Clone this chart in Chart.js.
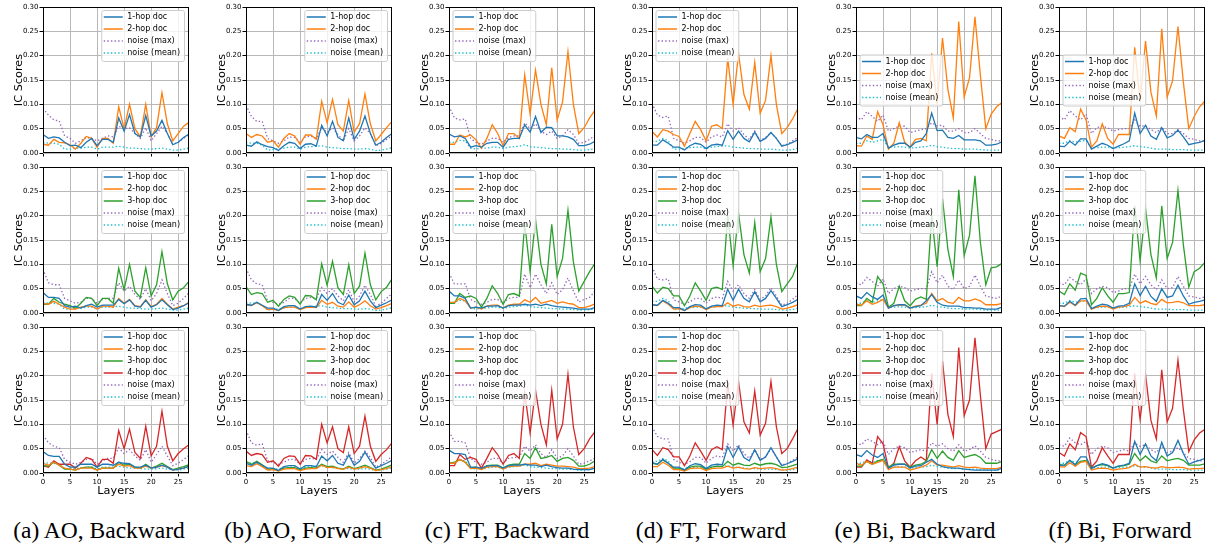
<!DOCTYPE html>
<html lang="en">
<head>
<meta charset="UTF-8">
<title>IC Scores per layer</title>
<script src="https://cdn.jsdelivr.net/npm/chart.js"></script>
<style>
  body { margin: 0; width: 1210px; height: 551px; background: #fff; position: relative; overflow: hidden; }
  canvas.panel { position: absolute; }
  .caption { position: absolute; top: 518px; width: 220px; text-align: center; white-space: nowrap;
             font-family: "Liberation Serif", "Times New Roman", serif; font-size: 23.5px; line-height: 24px; color: #000; }
</style>
</head>
<body>
<script>
// x values (layers)
const layers = [0,1,2,3,4,5,6,7,8,9,10,11,12,13,14,15,16,17,18,19,20,21,22,23,24,25,26,27];

const hopLabels = ['1-hop doc', '2-hop doc', '3-hop doc', '4-hop doc'];
const hopColors = ['#1f77b4', '#ff7f0e', '#2ca02c', '#d62728'];
const captions = ['(a) AO, Backward', '(b) AO, Forward', '(c) FT, Backward', '(d) FT, Forward', '(e) Bi, Backward', '(f) Bi, Forward'];

// (a) AO, Backward
const a1_hop1 = [0.038,0.030,0.033,0.031,0.022,0.015,0.016,0.011,0.022,0.030,0.015,0.028,0.028,0.022,0.072,0.045,0.079,0.040,0.033,0.077,0.035,0.045,0.067,0.040,0.017,0.022,0.032,0.039];
const a1_hop2 = [0.018,0.016,0.028,0.022,0.021,0.017,0.008,0.020,0.034,0.030,0.012,0.030,0.030,0.020,0.095,0.050,0.100,0.050,0.033,0.100,0.033,0.052,0.124,0.060,0.025,0.040,0.055,0.063];
const a1_nmax = [0.092,0.078,0.068,0.066,0.035,0.030,0.020,0.025,0.032,0.030,0.025,0.030,0.035,0.033,0.055,0.050,0.052,0.040,0.030,0.052,0.025,0.040,0.055,0.040,0.018,0.022,0.030,0.038];
const a_nmean = [0.022,0.020,0.020,0.018,0.008,0.008,0.010,0.010,0.012,0.012,0.008,0.012,0.012,0.012,0.014,0.012,0.010,0.010,0.009,0.008,0.008,0.009,0.010,0.008,0.006,0.006,0.008,0.010];

const a2_hop1 = [0.042,0.032,0.032,0.030,0.015,0.012,0.014,0.010,0.015,0.018,0.012,0.016,0.016,0.016,0.028,0.019,0.027,0.014,0.012,0.026,0.012,0.017,0.027,0.017,0.007,0.010,0.015,0.021];
const a2_hop2 = [0.020,0.018,0.024,0.018,0.012,0.008,0.008,0.012,0.014,0.014,0.008,0.014,0.014,0.012,0.030,0.020,0.028,0.015,0.013,0.027,0.013,0.018,0.030,0.018,0.008,0.012,0.015,0.022];
const a2_hop3 = [0.018,0.018,0.030,0.022,0.018,0.015,0.010,0.020,0.032,0.030,0.015,0.030,0.030,0.020,0.092,0.048,0.100,0.045,0.032,0.093,0.035,0.058,0.126,0.060,0.027,0.045,0.052,0.065];
const a2_nmax = [0.090,0.062,0.058,0.058,0.030,0.025,0.020,0.022,0.030,0.030,0.020,0.028,0.030,0.030,0.062,0.045,0.055,0.038,0.028,0.050,0.025,0.040,0.068,0.040,0.015,0.020,0.030,0.042];

const a3_hop1 = [0.044,0.036,0.034,0.034,0.018,0.012,0.012,0.018,0.018,0.018,0.012,0.018,0.018,0.016,0.022,0.020,0.019,0.012,0.012,0.016,0.010,0.012,0.016,0.012,0.006,0.008,0.010,0.014];
const a3_hop2 = [0.020,0.016,0.022,0.016,0.010,0.008,0.006,0.010,0.010,0.010,0.006,0.010,0.010,0.010,0.018,0.014,0.015,0.010,0.010,0.014,0.010,0.012,0.015,0.012,0.006,0.008,0.010,0.014];
const a3_hop3 = [0.015,0.014,0.022,0.016,0.008,0.008,0.006,0.010,0.012,0.012,0.006,0.010,0.010,0.010,0.022,0.016,0.018,0.012,0.010,0.018,0.010,0.014,0.020,0.013,0.007,0.010,0.013,0.017];
const a3_hop4 = [0.015,0.012,0.025,0.018,0.018,0.018,0.010,0.020,0.032,0.028,0.012,0.028,0.028,0.020,0.087,0.050,0.090,0.042,0.030,0.096,0.035,0.055,0.127,0.055,0.025,0.040,0.050,0.058];
const a3_nmax = [0.078,0.062,0.055,0.052,0.028,0.022,0.018,0.022,0.028,0.030,0.018,0.025,0.030,0.030,0.052,0.040,0.048,0.035,0.026,0.048,0.022,0.038,0.055,0.035,0.015,0.020,0.028,0.036];

// (b) AO, Forward
const b1_hop1 = [0.016,0.014,0.023,0.017,0.013,0.011,0.005,0.015,0.022,0.020,0.009,0.018,0.019,0.014,0.057,0.035,0.065,0.032,0.025,0.072,0.028,0.045,0.076,0.040,0.016,0.022,0.032,0.040];
const b1_hop2 = [0.040,0.032,0.038,0.035,0.022,0.025,0.012,0.030,0.040,0.035,0.018,0.037,0.037,0.028,0.106,0.062,0.110,0.058,0.045,0.108,0.043,0.060,0.121,0.060,0.025,0.038,0.052,0.065];
const b1_nmax = [0.098,0.075,0.065,0.065,0.030,0.025,0.020,0.025,0.033,0.032,0.022,0.033,0.035,0.030,0.052,0.042,0.052,0.038,0.025,0.050,0.025,0.035,0.052,0.040,0.015,0.020,0.028,0.036];
const b_nmean = [0.022,0.020,0.020,0.016,0.006,0.007,0.009,0.010,0.012,0.012,0.008,0.012,0.013,0.014,0.015,0.012,0.011,0.010,0.009,0.009,0.008,0.008,0.009,0.008,0.005,0.006,0.008,0.011];

const b2_hop1 = [0.018,0.016,0.022,0.016,0.010,0.010,0.005,0.013,0.015,0.015,0.008,0.013,0.014,0.012,0.038,0.026,0.040,0.022,0.017,0.037,0.017,0.025,0.045,0.025,0.011,0.016,0.021,0.027];
const b2_hop2 = [0.016,0.015,0.021,0.015,0.007,0.008,0.005,0.011,0.012,0.012,0.007,0.011,0.012,0.011,0.026,0.018,0.022,0.014,0.012,0.023,0.012,0.017,0.025,0.015,0.008,0.011,0.015,0.020];
const b2_hop3 = [0.054,0.038,0.042,0.040,0.022,0.026,0.014,0.028,0.035,0.032,0.018,0.036,0.035,0.027,0.101,0.057,0.106,0.052,0.038,0.099,0.040,0.055,0.123,0.058,0.027,0.044,0.053,0.070];
const b2_nmax = [0.092,0.068,0.060,0.058,0.025,0.022,0.018,0.022,0.030,0.030,0.020,0.030,0.032,0.030,0.052,0.040,0.050,0.035,0.025,0.048,0.023,0.035,0.057,0.038,0.014,0.020,0.030,0.040];

const b3_hop1 = [0.020,0.016,0.022,0.016,0.010,0.010,0.005,0.013,0.015,0.015,0.008,0.015,0.015,0.013,0.035,0.025,0.036,0.020,0.016,0.037,0.016,0.024,0.043,0.025,0.010,0.015,0.020,0.026];
const b3_hop2 = [0.015,0.013,0.019,0.013,0.006,0.007,0.004,0.008,0.009,0.009,0.005,0.008,0.009,0.009,0.016,0.011,0.012,0.009,0.008,0.012,0.008,0.010,0.013,0.010,0.005,0.007,0.009,0.013];
const b3_hop3 = [0.024,0.018,0.024,0.017,0.008,0.009,0.005,0.010,0.011,0.011,0.006,0.010,0.011,0.010,0.018,0.013,0.014,0.010,0.008,0.014,0.009,0.012,0.016,0.011,0.006,0.008,0.012,0.017];
const b3_hop4 = [0.045,0.036,0.040,0.038,0.022,0.025,0.014,0.030,0.035,0.034,0.018,0.036,0.035,0.028,0.100,0.062,0.095,0.050,0.042,0.095,0.040,0.055,0.117,0.055,0.024,0.038,0.048,0.062];
const b3_nmax = [0.088,0.062,0.057,0.060,0.025,0.022,0.018,0.022,0.028,0.028,0.018,0.028,0.030,0.028,0.048,0.038,0.045,0.032,0.022,0.042,0.020,0.030,0.045,0.032,0.012,0.018,0.025,0.034];

// (c) FT, Backward
const c1_hop1 = [0.039,0.033,0.035,0.030,0.012,0.015,0.012,0.020,0.022,0.022,0.012,0.028,0.030,0.030,0.058,0.043,0.075,0.042,0.053,0.052,0.035,0.035,0.033,0.028,0.015,0.015,0.018,0.024];
const c1_hop2 = [0.018,0.018,0.037,0.033,0.037,0.027,0.010,0.030,0.058,0.040,0.015,0.040,0.040,0.030,0.160,0.080,0.170,0.100,0.058,0.175,0.068,0.105,0.208,0.100,0.040,0.052,0.072,0.088];
const c1_nmax = [0.096,0.072,0.068,0.070,0.030,0.022,0.018,0.025,0.030,0.030,0.022,0.032,0.035,0.035,0.062,0.050,0.060,0.045,0.038,0.045,0.030,0.035,0.048,0.038,0.020,0.022,0.028,0.036];
const c_nmean = [0.022,0.022,0.026,0.025,0.010,0.008,0.010,0.010,0.012,0.012,0.009,0.012,0.013,0.014,0.017,0.013,0.012,0.011,0.010,0.009,0.009,0.008,0.008,0.007,0.006,0.006,0.007,0.009];

const c2_hop1 = [0.045,0.035,0.035,0.030,0.010,0.012,0.010,0.014,0.014,0.015,0.010,0.015,0.016,0.016,0.018,0.016,0.018,0.015,0.018,0.015,0.013,0.012,0.011,0.010,0.008,0.008,0.008,0.011];
const c2_hop2 = [0.022,0.022,0.030,0.025,0.010,0.012,0.008,0.014,0.016,0.016,0.010,0.016,0.018,0.018,0.027,0.022,0.032,0.020,0.023,0.026,0.020,0.023,0.020,0.018,0.011,0.011,0.014,0.019];
const c2_hop3 = [0.020,0.020,0.040,0.032,0.035,0.030,0.012,0.030,0.056,0.040,0.018,0.038,0.040,0.035,0.185,0.085,0.192,0.100,0.060,0.182,0.075,0.112,0.211,0.105,0.045,0.065,0.085,0.102];
const c2_nmax = [0.082,0.060,0.060,0.060,0.028,0.022,0.018,0.022,0.028,0.028,0.020,0.030,0.032,0.032,0.080,0.052,0.080,0.058,0.040,0.062,0.038,0.048,0.072,0.045,0.022,0.028,0.032,0.045];

const c3_hop1 = [0.047,0.040,0.040,0.038,0.012,0.012,0.010,0.014,0.015,0.015,0.010,0.015,0.016,0.016,0.018,0.016,0.016,0.013,0.016,0.013,0.011,0.010,0.010,0.008,0.007,0.007,0.007,0.010];
const c3_hop2 = [0.020,0.020,0.028,0.022,0.009,0.010,0.007,0.012,0.013,0.013,0.008,0.013,0.014,0.014,0.018,0.018,0.020,0.015,0.018,0.016,0.014,0.014,0.013,0.012,0.009,0.009,0.010,0.013];
const c3_hop3 = [0.020,0.022,0.028,0.022,0.010,0.012,0.008,0.015,0.016,0.016,0.010,0.016,0.018,0.018,0.040,0.030,0.052,0.030,0.032,0.036,0.024,0.030,0.032,0.026,0.014,0.014,0.018,0.025];
const c3_hop4 = [0.015,0.015,0.038,0.028,0.032,0.028,0.010,0.030,0.052,0.038,0.018,0.036,0.040,0.030,0.165,0.082,0.170,0.100,0.058,0.170,0.070,0.100,0.203,0.095,0.038,0.050,0.070,0.085];
const c3_nmax = [0.085,0.065,0.065,0.062,0.030,0.022,0.018,0.022,0.030,0.030,0.020,0.030,0.032,0.032,0.055,0.045,0.058,0.040,0.032,0.048,0.030,0.035,0.050,0.035,0.018,0.020,0.025,0.030];

// (d) FT, Forward
const d1_hop1 = [0.016,0.016,0.027,0.020,0.012,0.012,0.006,0.015,0.020,0.018,0.009,0.016,0.018,0.016,0.046,0.028,0.045,0.030,0.023,0.043,0.024,0.030,0.042,0.030,0.014,0.017,0.022,0.027];
const d1_hop2 = [0.044,0.033,0.048,0.045,0.038,0.034,0.014,0.040,0.065,0.048,0.025,0.055,0.058,0.050,0.195,0.100,0.205,0.120,0.090,0.186,0.082,0.108,0.200,0.100,0.040,0.052,0.070,0.092];
const d1_nmax = [0.102,0.078,0.073,0.076,0.030,0.025,0.020,0.025,0.032,0.032,0.022,0.033,0.037,0.033,0.060,0.045,0.052,0.038,0.028,0.045,0.025,0.032,0.042,0.030,0.015,0.018,0.025,0.032];
const d_nmean = [0.024,0.024,0.030,0.025,0.008,0.008,0.010,0.011,0.012,0.012,0.009,0.012,0.013,0.014,0.015,0.012,0.011,0.010,0.009,0.009,0.008,0.008,0.008,0.007,0.006,0.006,0.007,0.010];

const d2_hop1 = [0.017,0.016,0.026,0.020,0.011,0.011,0.005,0.013,0.017,0.016,0.008,0.014,0.016,0.015,0.049,0.026,0.049,0.030,0.023,0.044,0.023,0.030,0.046,0.030,0.013,0.017,0.022,0.028];
const d2_hop2 = [0.016,0.015,0.025,0.018,0.008,0.009,0.005,0.011,0.014,0.013,0.007,0.012,0.013,0.013,0.021,0.014,0.017,0.013,0.012,0.016,0.013,0.015,0.016,0.013,0.008,0.010,0.013,0.017];
const d2_hop3 = [0.055,0.041,0.053,0.050,0.035,0.035,0.015,0.035,0.062,0.045,0.026,0.050,0.053,0.048,0.200,0.097,0.205,0.120,0.082,0.186,0.085,0.112,0.197,0.100,0.044,0.060,0.075,0.105];
const d2_nmax = [0.095,0.070,0.068,0.070,0.027,0.023,0.018,0.023,0.030,0.030,0.020,0.030,0.033,0.030,0.065,0.045,0.058,0.040,0.030,0.048,0.028,0.035,0.052,0.035,0.016,0.020,0.028,0.038];

const d3_hop1 = [0.022,0.018,0.028,0.020,0.012,0.012,0.006,0.015,0.019,0.017,0.009,0.016,0.018,0.017,0.054,0.032,0.054,0.032,0.025,0.048,0.026,0.033,0.052,0.033,0.015,0.019,0.024,0.029];
const d3_hop2 = [0.013,0.013,0.022,0.016,0.007,0.007,0.004,0.009,0.010,0.010,0.005,0.009,0.010,0.010,0.014,0.010,0.012,0.009,0.008,0.011,0.009,0.010,0.011,0.009,0.006,0.007,0.009,0.012];
const d3_hop3 = [0.020,0.018,0.027,0.020,0.010,0.010,0.005,0.012,0.014,0.014,0.007,0.012,0.014,0.013,0.024,0.016,0.020,0.016,0.015,0.020,0.016,0.019,0.020,0.017,0.011,0.012,0.015,0.019];
const d3_hop4 = [0.048,0.036,0.052,0.048,0.033,0.033,0.015,0.035,0.062,0.045,0.026,0.048,0.054,0.048,0.185,0.098,0.188,0.105,0.082,0.168,0.078,0.102,0.188,0.095,0.040,0.050,0.070,0.092];
const d3_nmax = [0.095,0.075,0.070,0.070,0.028,0.022,0.018,0.023,0.032,0.032,0.020,0.030,0.035,0.032,0.060,0.045,0.058,0.040,0.030,0.048,0.028,0.033,0.050,0.033,0.016,0.020,0.026,0.033];

// (e) Bi, Backward
const e1_hop1 = [0.032,0.029,0.038,0.032,0.032,0.040,0.010,0.016,0.020,0.020,0.012,0.022,0.025,0.040,0.082,0.046,0.047,0.032,0.030,0.036,0.027,0.027,0.027,0.025,0.016,0.016,0.018,0.023];
const e1_hop2 = [0.015,0.014,0.035,0.028,0.085,0.058,0.008,0.020,0.062,0.022,0.012,0.028,0.030,0.025,0.205,0.100,0.236,0.130,0.072,0.270,0.115,0.155,0.280,0.160,0.050,0.080,0.095,0.104];
const e1_nmax = [0.075,0.068,0.085,0.075,0.065,0.078,0.045,0.050,0.055,0.055,0.042,0.045,0.048,0.050,0.062,0.056,0.057,0.045,0.045,0.050,0.042,0.042,0.050,0.040,0.030,0.028,0.025,0.025];
const e_nmean = [0.020,0.020,0.025,0.022,0.025,0.028,0.012,0.012,0.013,0.012,0.010,0.011,0.012,0.013,0.016,0.013,0.012,0.010,0.009,0.009,0.008,0.008,0.008,0.007,0.006,0.006,0.006,0.006];

const e2_hop1 = [0.035,0.030,0.042,0.033,0.028,0.037,0.010,0.015,0.017,0.017,0.010,0.013,0.015,0.025,0.038,0.022,0.016,0.014,0.014,0.014,0.011,0.011,0.010,0.010,0.008,0.008,0.008,0.012];
const e2_hop2 = [0.018,0.016,0.025,0.018,0.022,0.028,0.010,0.015,0.016,0.016,0.010,0.014,0.016,0.020,0.040,0.025,0.030,0.022,0.020,0.032,0.025,0.025,0.029,0.025,0.017,0.017,0.017,0.020];
const e2_hop3 = [0.015,0.015,0.030,0.022,0.075,0.060,0.012,0.020,0.055,0.025,0.015,0.028,0.033,0.028,0.200,0.095,0.235,0.130,0.075,0.253,0.118,0.160,0.282,0.145,0.058,0.093,0.095,0.102];
const e2_nmax = [0.062,0.058,0.073,0.065,0.055,0.070,0.040,0.050,0.055,0.052,0.045,0.048,0.050,0.050,0.085,0.062,0.078,0.055,0.048,0.068,0.050,0.055,0.078,0.055,0.035,0.032,0.030,0.035];

const e3_hop1 = [0.038,0.034,0.046,0.037,0.032,0.040,0.010,0.016,0.018,0.018,0.010,0.014,0.015,0.022,0.028,0.018,0.013,0.011,0.010,0.010,0.008,0.007,0.006,0.006,0.006,0.006,0.006,0.010];
const e3_hop2 = [0.020,0.016,0.024,0.018,0.022,0.026,0.007,0.012,0.012,0.012,0.006,0.009,0.012,0.016,0.025,0.016,0.016,0.014,0.012,0.015,0.012,0.011,0.012,0.010,0.009,0.009,0.009,0.012];
const e3_hop3 = [0.014,0.014,0.024,0.018,0.025,0.028,0.012,0.018,0.018,0.018,0.012,0.016,0.018,0.024,0.048,0.030,0.045,0.032,0.026,0.046,0.032,0.035,0.038,0.032,0.020,0.020,0.020,0.024];
const e3_hop4 = [0.012,0.012,0.027,0.020,0.075,0.060,0.010,0.020,0.054,0.025,0.012,0.025,0.033,0.025,0.205,0.100,0.230,0.120,0.075,0.258,0.118,0.150,0.278,0.160,0.050,0.080,0.085,0.090];
const e3_nmax = [0.062,0.058,0.070,0.065,0.058,0.065,0.038,0.050,0.055,0.052,0.042,0.045,0.048,0.045,0.062,0.055,0.060,0.050,0.045,0.058,0.045,0.048,0.056,0.045,0.032,0.028,0.025,0.025];

// (f) Bi, Forward
const f1_hop1 = [0.014,0.013,0.024,0.016,0.029,0.029,0.008,0.014,0.020,0.016,0.009,0.014,0.019,0.025,0.082,0.040,0.057,0.035,0.028,0.052,0.031,0.036,0.047,0.033,0.017,0.020,0.022,0.026];
const f1_hop2 = [0.035,0.030,0.052,0.044,0.090,0.068,0.012,0.025,0.060,0.030,0.018,0.038,0.038,0.038,0.217,0.105,0.230,0.125,0.076,0.255,0.115,0.148,0.260,0.145,0.050,0.075,0.095,0.107];
const f1_nmax = [0.075,0.068,0.087,0.076,0.068,0.080,0.040,0.052,0.055,0.052,0.045,0.048,0.050,0.050,0.068,0.055,0.056,0.048,0.042,0.053,0.040,0.040,0.048,0.040,0.030,0.028,0.025,0.025];
const f_nmean = [0.020,0.020,0.026,0.022,0.024,0.026,0.011,0.011,0.012,0.012,0.010,0.011,0.012,0.013,0.015,0.013,0.012,0.010,0.008,0.008,0.008,0.007,0.007,0.007,0.006,0.006,0.006,0.006];

const f2_hop1 = [0.015,0.014,0.024,0.016,0.029,0.030,0.009,0.014,0.018,0.016,0.010,0.014,0.015,0.020,0.060,0.036,0.055,0.034,0.024,0.050,0.032,0.035,0.057,0.035,0.018,0.022,0.024,0.027];
const f2_hop2 = [0.015,0.013,0.022,0.015,0.025,0.025,0.008,0.012,0.014,0.013,0.008,0.012,0.013,0.016,0.032,0.020,0.025,0.020,0.017,0.028,0.021,0.022,0.024,0.021,0.015,0.015,0.015,0.017];
const f2_hop3 = [0.045,0.038,0.060,0.047,0.082,0.077,0.017,0.030,0.052,0.035,0.022,0.040,0.040,0.042,0.220,0.107,0.215,0.120,0.072,0.220,0.112,0.145,0.252,0.140,0.053,0.085,0.092,0.104];
const f2_nmax = [0.062,0.058,0.073,0.065,0.058,0.070,0.040,0.050,0.055,0.052,0.042,0.045,0.050,0.050,0.080,0.060,0.075,0.058,0.048,0.068,0.050,0.052,0.075,0.055,0.035,0.033,0.030,0.033];

const f3_hop1 = [0.016,0.015,0.026,0.017,0.033,0.033,0.009,0.015,0.019,0.016,0.010,0.014,0.016,0.020,0.065,0.038,0.060,0.035,0.025,0.063,0.035,0.042,0.067,0.040,0.018,0.023,0.026,0.030];
const f3_hop2 = [0.013,0.012,0.021,0.014,0.022,0.024,0.006,0.009,0.010,0.009,0.006,0.008,0.009,0.011,0.018,0.012,0.013,0.011,0.010,0.013,0.011,0.011,0.012,0.011,0.008,0.009,0.009,0.010];
const f3_hop3 = [0.017,0.016,0.026,0.017,0.024,0.026,0.010,0.015,0.017,0.015,0.010,0.014,0.015,0.018,0.040,0.025,0.035,0.025,0.021,0.035,0.025,0.028,0.030,0.026,0.016,0.016,0.016,0.019];
const f3_hop4 = [0.042,0.035,0.060,0.048,0.083,0.075,0.012,0.025,0.052,0.035,0.020,0.038,0.038,0.038,0.205,0.110,0.203,0.108,0.070,0.212,0.105,0.133,0.232,0.130,0.044,0.068,0.082,0.090];
const f3_nmax = [0.058,0.055,0.072,0.062,0.058,0.065,0.038,0.050,0.055,0.052,0.042,0.045,0.048,0.045,0.062,0.055,0.058,0.048,0.042,0.055,0.042,0.045,0.052,0.042,0.030,0.028,0.025,0.025];

// which arrays go in which panel; legend: ur = upper right, ul = upper left, cl = center left
const panels = [
  { col: 0, row: 0, legend: 'ur', hops: [a1_hop1, a1_hop2], nmax: a1_nmax, nmean: a_nmean },
  { col: 0, row: 1, legend: 'ur', hops: [a2_hop1, a2_hop2, a2_hop3], nmax: a2_nmax, nmean: a_nmean },
  { col: 0, row: 2, legend: 'ur', hops: [a3_hop1, a3_hop2, a3_hop3, a3_hop4], nmax: a3_nmax, nmean: a_nmean },
  { col: 1, row: 0, legend: 'ur', hops: [b1_hop1, b1_hop2], nmax: b1_nmax, nmean: b_nmean },
  { col: 1, row: 1, legend: 'ur', hops: [b2_hop1, b2_hop2, b2_hop3], nmax: b2_nmax, nmean: b_nmean },
  { col: 1, row: 2, legend: 'ur', hops: [b3_hop1, b3_hop2, b3_hop3, b3_hop4], nmax: b3_nmax, nmean: b_nmean },
  { col: 2, row: 0, legend: 'ul', hops: [c1_hop1, c1_hop2], nmax: c1_nmax, nmean: c_nmean },
  { col: 2, row: 1, legend: 'ul', hops: [c2_hop1, c2_hop2, c2_hop3], nmax: c2_nmax, nmean: c_nmean },
  { col: 2, row: 2, legend: 'ul', hops: [c3_hop1, c3_hop2, c3_hop3, c3_hop4], nmax: c3_nmax, nmean: c_nmean },
  { col: 3, row: 0, legend: 'ul', hops: [d1_hop1, d1_hop2], nmax: d1_nmax, nmean: d_nmean },
  { col: 3, row: 1, legend: 'ul', hops: [d2_hop1, d2_hop2, d2_hop3], nmax: d2_nmax, nmean: d_nmean },
  { col: 3, row: 2, legend: 'ul', hops: [d3_hop1, d3_hop2, d3_hop3, d3_hop4], nmax: d3_nmax, nmean: d_nmean },
  { col: 4, row: 0, legend: 'cl', hops: [e1_hop1, e1_hop2], nmax: e1_nmax, nmean: e_nmean },
  { col: 4, row: 1, legend: 'ul', hops: [e2_hop1, e2_hop2, e2_hop3], nmax: e2_nmax, nmean: e_nmean },
  { col: 4, row: 2, legend: 'ul', hops: [e3_hop1, e3_hop2, e3_hop3, e3_hop4], nmax: e3_nmax, nmean: e_nmean },
  { col: 5, row: 0, legend: 'cl', hops: [f1_hop1, f1_hop2], nmax: f1_nmax, nmean: f_nmean },
  { col: 5, row: 1, legend: 'ul', hops: [f2_hop1, f2_hop2, f2_hop3], nmax: f2_nmax, nmean: f_nmean },
  { col: 5, row: 2, legend: 'ul', hops: [f3_hop1, f3_hop2, f3_hop3, f3_hop4], nmax: f3_nmax, nmean: f_nmean }
];

const plotLefts = [43, 246, 449, 652, 856, 1059];
const captionCenters = [99, 303, 507, 711, 915, 1120];
const FONT = '"DejaVu Sans", sans-serif';

// frame around the plot + legend drawn inside the axes, like matplotlib does
const frameAndLegend = {
  id: 'frameAndLegend',
  afterDatasetsDraw(chart, args, opts) {
    const ctx = chart.ctx;
    const a = chart.chartArea;
    ctx.save();
    ctx.strokeStyle = '#000';
    ctx.lineWidth = 1;
    ctx.strokeRect(a.left + 0.5, a.top + 0.5, a.right - a.left - 1, a.bottom - a.top - 1);

    const ds = chart.data.datasets;
    ctx.font = '8px ' + FONT;
    const textW = Math.max(...ds.map(d => ctx.measureText(d.label).width));
    const w = 27 + textW + 3;
    const h = 12 * ds.length + 3;
    let x, y;
    if (opts.loc === 'ur') { x = a.right - 5 - w; y = a.top + 3; }
    else if (opts.loc === 'ul') { x = a.left + 3.5; y = a.top + 3; }
    else { x = a.left + 3.5; y = (a.top + a.bottom) / 2 - h / 2; }

    ctx.fillStyle = 'rgba(255,255,255,0.8)';
    ctx.strokeStyle = '#cccccc';
    ctx.beginPath();
    ctx.roundRect(x + 0.5, y + 0.5, w, h, 2);
    ctx.fill();
    ctx.stroke();

    ds.forEach((d, i) => {
      const cy = y + 7 + 12 * i;
      ctx.strokeStyle = d.borderColor;
      ctx.lineWidth = 1.5;
      ctx.setLineDash(d.borderDash || []);
      ctx.beginPath();
      ctx.moveTo(x + 2.5, cy);
      ctx.lineTo(x + 21.5, cy);
      ctx.stroke();
      ctx.setLineDash([]);
      ctx.fillStyle = '#000';
      ctx.textBaseline = 'middle';
      ctx.textAlign = 'left';
      ctx.fillText(d.label, x + 26, cy);
    });
    ctx.restore();
  }
};

function toPoints(values) {
  return values.map((v, i) => ({ x: layers[i], y: v }));
}

panels.forEach(p => {
  const bottomRow = p.row === 2;
  const cv = document.createElement('canvas');
  cv.className = 'panel';
  cv.width = 194;
  cv.height = bottomRow ? 183 : 160;
  cv.style.left = (plotLefts[p.col] - 43) + 'px';
  cv.style.top = (p.row * 160) + 'px';
  document.body.appendChild(cv);

  const datasets = p.hops.map((vals, i) => ({
    label: hopLabels[i], data: toPoints(vals), borderColor: hopColors[i], borderWidth: 1.3
  }));
  datasets.push({ label: 'noise (max)', data: toPoints(p.nmax), borderColor: '#9467bd', borderWidth: 1.3, borderDash: [1.4, 2.2] });
  datasets.push({ label: 'noise (mean)', data: toPoints(p.nmean), borderColor: '#17becf', borderWidth: 1.3, borderDash: [1.4, 2.2] });
  datasets.forEach(d => { d.pointRadius = 0; d.fill = false; d.tension = 0; });

  new Chart(cv, {
    type: 'line',
    data: { datasets: datasets },
    options: {
      responsive: false,
      animation: false,
      events: [],
      layout: { padding: { left: 0, top: 7, right: 5, bottom: 0 } },
      plugins: {
        legend: { display: false },
        tooltip: { enabled: false },
        frameAndLegend: { loc: p.legend }
      },
      scales: {
        x: {
          type: 'linear', min: 0, max: 27,
          ticks: { stepSize: 5, includeBounds: false, autoSkip: false, maxRotation: 0,
                   display: bottomRow, padding: 1, color: '#000', font: { family: FONT, size: 7 } },
          grid: { color: '#b8b8b8', lineWidth: 1, tickColor: '#000', tickLength: 3.5 },
          border: { display: false },
          title: { display: bottomRow, text: 'Layers', color: '#000',
                   font: { family: FONT, size: 11.3 }, padding: { top: 0, bottom: 5 } },
          afterFit: s => { s.height = bottomRow ? 30 : 7; }
        },
        y: {
          min: 0, max: 0.3,
          ticks: { stepSize: 0.05, padding: 1, color: '#000', font: { family: FONT, size: 7 },
                   callback: v => v.toFixed(2) },
          grid: { color: '#b8b8b8', lineWidth: 1, tickColor: '#000', tickLength: 3.5 },
          border: { display: false },
          title: { display: true, text: 'IC Scores', color: '#000',
                   font: { family: FONT, size: 11.3 }, padding: { top: 12, bottom: 0 } },
          afterFit: s => { s.width = 43; }
        }
      }
    },
    plugins: [frameAndLegend]
  });
});

captions.forEach((text, i) => {
  const div = document.createElement('div');
  div.className = 'caption';
  div.style.left = (captionCenters[i] - 110) + 'px';
  div.textContent = text;
  document.body.appendChild(div);
});
</script>
</body>
</html>
